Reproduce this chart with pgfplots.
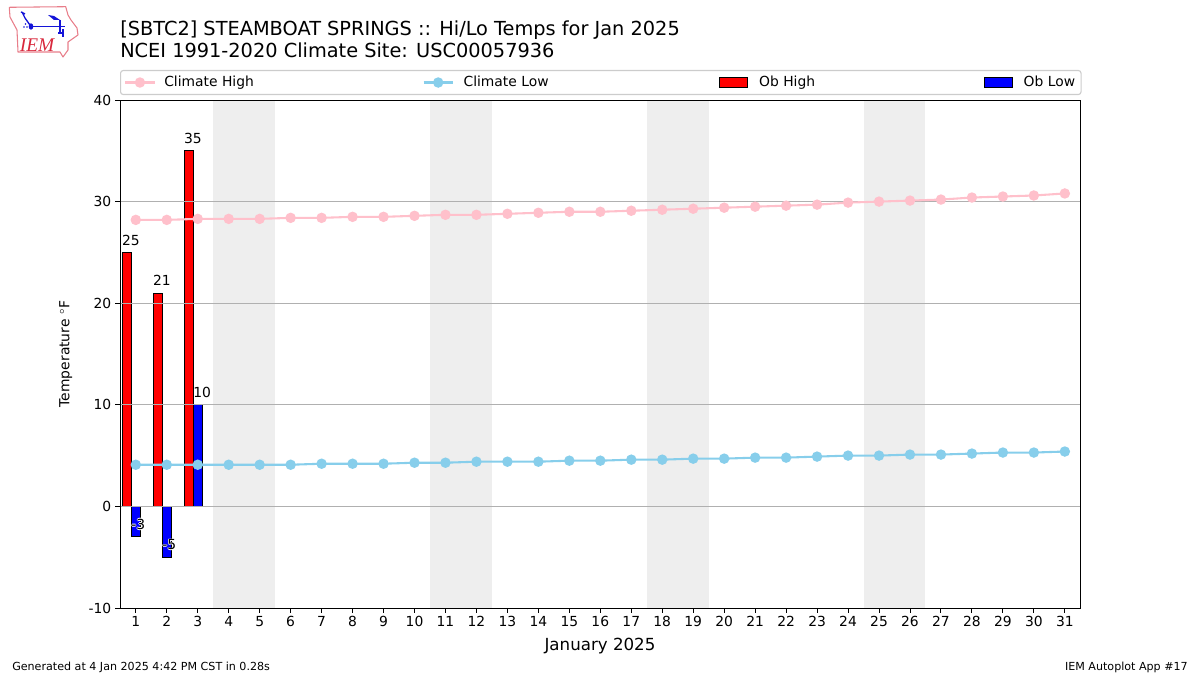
\documentclass[border=0pt]{standalone}
\usepackage{pgfplots}
\usepackage{fontspec}
\pgfplotsset{compat=1.18}
\setmainfont{DejaVu Sans}
\newfontfamily\logofont{Liberation Serif}
\definecolor{cpink}{HTML}{FFC0CB}
\definecolor{cblue}{HTML}{87CEEB}
\definecolor{spanc}{HTML}{EEEEEE}
\definecolor{gridc}{HTML}{B0B0B0}
\definecolor{logored}{HTML}{D8283C}
\definecolor{logoblue}{HTML}{1414D8}
\pgfplotsset{
  linelegend/.style={legend image code/.code={\draw[##1,mark=none] plot coordinates {(0pt,0pt)(11pt,0pt)(22pt,0pt)};\path[##1] plot[mark=*,mark repeat=1] coordinates {(11pt,0pt)};}},
  boxlegend/.style={legend image code/.code={\draw[##1,sharp corners] (0pt,-3.4pt) rectangle (21pt,3.6pt);}},
}
\tikzset{vlab/.style={anchor=base west,inner sep=0pt,font=\fontsize{10.4pt}{12pt}\selectfont}}
\newcommand{\halolabel}[3]{%
  \node[vlab,text=white,xshift=-0.6pt,yshift=5.5pt] at (axis cs:#1,#2) {#3};%
  \node[vlab,text=white,xshift=0.6pt,yshift=5.5pt] at (axis cs:#1,#2) {#3};%
  \node[vlab,text=white,yshift=4.9pt] at (axis cs:#1,#2) {#3};%
  \node[vlab,text=white,yshift=6.1pt] at (axis cs:#1,#2) {#3};%
  \node[vlab,yshift=5.5pt] at (axis cs:#1,#2) {#3};}
\begin{document}
\begin{tikzpicture}[x=1pt,y=1pt]
\begin{scope}[x=0.75pt,y=-0.75pt,shift={(0pt,506.25pt)}]
\path[use as bounding box] (0,0) rectangle (1200,675);
% logo
\draw[logored!60,line width=0.8pt,line join=round] (9.3,7.3)--(65.7,6.7)--(68,15)--(71,20)--(77,28)--(78,35)--(68,42)--(68,50)--(63,57)--(60,52)--(18,52)--(17,30)--(10,17)--cycle;
\draw[logoblue,line width=1.3pt] (31,26.5)--(65,26.5) (60,20)--(60,33);
\draw[logoblue,line width=1pt] (31,26.5)--(25,18)--(22,12) (21,12)--(25,14);
\fill[logoblue] (31,26.5) ellipse (2.3 and 3.2);
\fill[logoblue] (48,15)--(54,16)--(60,20)--(54,20)--cycle;
\fill[logoblue] (24,27) circle (0.9) (27,27) circle (0.9) (25.5,24) circle (0.9);
\draw[logoblue,line width=1pt] (58,33)--(64,33) (63,29)--(63,37);
\node[logored,inner sep=0pt] at (37,45) {\logofont\itshape\fontsize{14.5pt}{16pt}\selectfont IEM};
% titles
\node[anchor=base west,inner sep=0pt,font=\fontsize{14.5pt}{17pt}\selectfont] at (120,36) {[SBTC2] STEAMBOAT SPRINGS :: Hi/Lo Temps for Jan 2025};
\node[anchor=base west,inner sep=0pt,font=\fontsize{14.5pt}{17pt}\selectfont] at (120,58) {NCEI 1991-2020 Climate Site: USC00057936};
\node[anchor=base west,inner sep=0pt,font=\fontsize{8.33pt}{10pt}\selectfont] at (12,670) {Generated at 4 Jan 2025 4:42 PM CST in 0.28s};
\node[anchor=base east,inner sep=0pt,font=\fontsize{8.33pt}{10pt}\selectfont] at (1188,670) {IEM Autoplot App \#17};
\end{scope}
\begin{axis}[
  at={(90pt,50.25pt)},anchor=south west,
  scale only axis,width=720pt,height=381pt,
  set layers=standard,
  xmin=0.49,xmax=31.49,ymin=-10,ymax=40,
  xtick={1,2,...,31},ytick={-10,0,10,20,30,40},
  ymajorgrids,
  grid style={gridc,line width=0.7pt},
  axis line style={line width=0.7pt},
  tick style={black,line width=0.7pt},
  tick align=outside,tickwidth=3.6pt,
  xtick pos=bottom,ytick pos=left,
  tick label style={font=\fontsize{10.4pt}{12pt}\selectfont},
  /pgf/number format/assume math mode=true,
  xticklabel style={yshift=1pt},
  yticklabel style={xshift=0.5pt},
  xlabel={January 2025},
  xlabel style={font=\fontsize{12.5pt}{15pt}\selectfont,at={(axis description cs:0.5,0)},anchor=base,yshift=-32pt},
  ylabel={Temperature ${}^\circ$F},
  ylabel style={font=\fontsize{10.4pt}{12pt}\selectfont,at={(axis description cs:0,0.5)},anchor=base,yshift=38pt},
  legend columns=4,
  legend cell align=left,
  legend style={at={(0,1)},anchor=south west,yshift=3.7pt,xshift=0pt,
    draw=black!20,rounded corners=2pt,line width=0.83pt,
    font=\fontsize{10.4pt}{12pt}\selectfont,
    inner xsep=2.75pt,inner ysep=2.3pt,
    /tikz/column sep=0pt},
]
\addlegendimage{linelegend,cpink,line width=1.56pt,mark=*,mark size=3.1pt,mark options={fill=cpink,draw=cpink}}
\addlegendentry{\makebox[196.15pt][l]{\hspace{4.5pt}Climate High}}
\addlegendimage{linelegend,cblue,line width=1.56pt,mark=*,mark size=3.1pt,mark options={fill=cblue,draw=cblue}}
\addlegendentry{\makebox[194.5pt][l]{\hspace{5.25pt}Climate Low}}
\addlegendimage{boxlegend,black,fill=red,line width=0.7pt}
\addlegendentry{\makebox[173.45pt][l]{\hspace{6.75pt}Ob High}}
\addlegendimage{boxlegend,black,fill=blue,line width=0.7pt}
\addlegendentry{\makebox[44.25pt][l]{\hspace{6pt}Ob Low}}
% weekend spans
\begin{pgfonlayer}{axis background}
\fill[spanc] (axis cs:3.5,-10) rectangle (axis cs:5.5,40);
\fill[spanc] (axis cs:10.5,-10) rectangle (axis cs:12.5,40);
\fill[spanc] (axis cs:17.5,-10) rectangle (axis cs:19.5,40);
\fill[spanc] (axis cs:24.5,-10) rectangle (axis cs:26.5,40);
\end{pgfonlayer}
% bars
\addplot[on layer=axis background,ybar,bar width=6.9pt,bar shift=-6.8pt,draw=black,line width=0.7pt,fill=red,forget plot]
  coordinates {(1,25)(2,21)(3,35)};
\addplot[on layer=axis background,ybar,bar width=6.9pt,bar shift=0.1pt,draw=black,line width=0.7pt,fill=blue,forget plot]
  coordinates {(1,-3)(2,-5)(3,10)};
% climate lines
\addplot[cpink,line width=1.56pt,mark=*,mark size=3.1pt,mark options={fill=cpink,draw=cpink},forget plot] coordinates {
(1,28.2)(2,28.2)(3,28.3)(4,28.3)(5,28.3)(6,28.4)(7,28.4)(8,28.5)(9,28.5)(10,28.6)
(11,28.7)(12,28.7)(13,28.8)(14,28.9)(15,29.0)(16,29.0)(17,29.1)(18,29.2)(19,29.3)(20,29.4)
(21,29.5)(22,29.6)(23,29.7)(24,29.9)(25,30.0)(26,30.1)(27,30.2)(28,30.4)(29,30.5)(30,30.6)(31,30.8)};
\addplot[cblue,line width=1.56pt,mark=*,mark size=3.1pt,mark options={fill=cblue,draw=cblue},forget plot] coordinates {
(1,4.1)(2,4.1)(3,4.1)(4,4.1)(5,4.1)(6,4.1)(7,4.2)(8,4.2)(9,4.2)(10,4.3)
(11,4.3)(12,4.4)(13,4.4)(14,4.4)(15,4.5)(16,4.5)(17,4.6)(18,4.6)(19,4.7)(20,4.7)
(21,4.8)(22,4.8)(23,4.9)(24,5.0)(25,5.0)(26,5.1)(27,5.1)(28,5.2)(29,5.3)(30,5.3)(31,5.4)};
% value labels
\halolabel{0.55}{25}{25}
\halolabel{1.55}{21}{21}
\halolabel{2.55}{35}{35}
\halolabel{0.85}{-3}{-3}
\halolabel{1.85}{-5}{-5}
\halolabel{2.85}{10}{10}
\end{axis}
\end{tikzpicture}
\end{document}
